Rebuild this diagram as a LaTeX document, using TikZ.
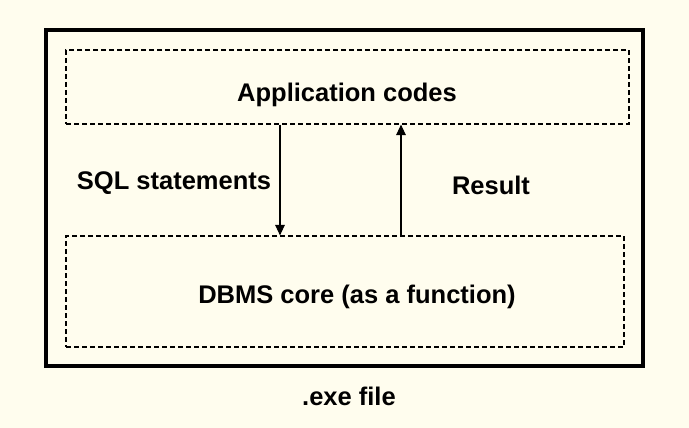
\documentclass[tikz,border=0pt]{standalone}
\usepackage{fontspec}
\setmainfont{Liberation Sans}
\usepackage{tikz}
\usepackage{xcolor}
\usetikzlibrary{arrows.meta}
\definecolor{paper}{HTML}{FFFDEE}

\begin{document}
\begin{tikzpicture}[x=1pt,y=-1pt,
        dashbox/.style={draw,line width=1.1pt,dash pattern=on 5pt off 3pt,inner sep=0pt},
        lbl/.style={font=\bfseries\fontsize{25.5}{30}\selectfont,inner sep=0pt},
        call/.style={-{Triangle[length=10.5pt,width=9.5pt]},line width=1.1pt}]
        % Background and bounding box
        \fill[paper] (0,0) rectangle (689,428);
        \useasboundingbox (0,0) rectangle (689,428);
        % Outer frame of the executable
        \node (exe) [draw,line width=4pt,minimum width=597pt,minimum height=336pt,inner sep=0pt] at (344.5,198) {};
        \node (exelbl) [lbl] at (349,396) {.exe file};
        % Application and DBMS boxes
        \node (app) [dashbox,minimum width=563pt,minimum height=74pt] at (347.5,87) {};
        \node (applbl) [lbl] at (347,95) {Application codes};
        \node (dbms) [dashbox,minimum width=558pt,minimum height=111pt] at (345,291.5) {};
        \node (dbmslbl) [lbl] at (357,297) {DBMS core (as a function)};
        % Calls and results
        \coordinate (down) at (280,0);
        \coordinate (up) at (401,0);
        \draw[call] (app.south -| down) -- (dbms.north -| down);
        \draw[call] (dbms.north -| up) -- (app.south -| up);
        \node (sql) [lbl] at (174,183) {SQL statements};
        \node (res) [lbl] at (491,185) {Result};
    \end{tikzpicture}
\end{document}
